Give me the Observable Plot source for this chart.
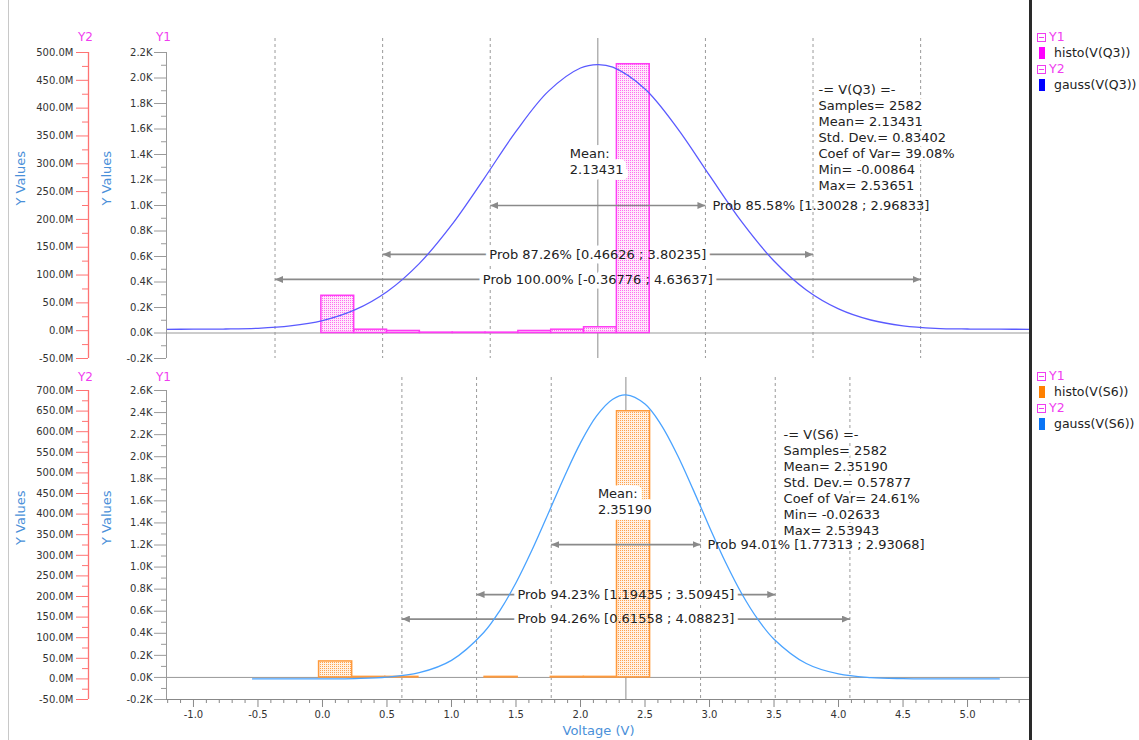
<!DOCTYPE html>
<html>
<head>
<meta charset="utf-8">
<script src="https://cdn.jsdelivr.net/npm/d3@7"></script>
<script src="https://cdn.jsdelivr.net/npm/@observablehq/plot@0.6"></script>
<style>
  body { margin: 0; background: #fff; font-family: "DejaVu Sans", sans-serif; }
  #wrap { position: relative; width: 1139px; height: 740px; overflow: hidden; background: #fff; }
  .abs { position: absolute; left: 0; }
  .leg { position: absolute; left: 1037px; font-size: 12.5px; color: #222; }
  .row { height: 16px; line-height: 16px; display: flex; align-items: center; white-space: nowrap; }
  .minus { display: inline-block; box-sizing: border-box; width: 9px; height: 9px; border: 1px solid #f03cf0; position: relative; margin-right: 3px; }
  .minus:after { content: ""; position: absolute; left: 1px; right: 1px; top: 3px; height: 1px; background: #f03cf0; }
  .yl { color: #f03cf0; }
  .sw { display: inline-block; width: 6px; height: 12px; margin: 0 9px 0 2px; }
</style>
</head>
<body>
<svg width="0" height="0" style="position:absolute">
  <defs>
    <pattern id="pinkDots" width="2" height="2" patternUnits="userSpaceOnUse">
      <rect width="2" height="2" fill="#ffe8fc"/>
      <rect width="1" height="1" fill="#ff6cee"/>
    </pattern>
    <pattern id="orangeDots" width="2" height="2" patternUnits="userSpaceOnUse">
      <rect width="2" height="2" fill="#fff1e4"/>
      <rect width="1" height="1" fill="#ffa24e"/>
    </pattern>
  </defs>
</svg>
<div id="wrap">
  <div style="position:absolute;left:8px;top:0;width:1px;height:740px;background:#c8c8c8"></div>
  <div id="top1" class="abs" style="top:0"></div>
  <div id="top2" class="abs" style="top:0"></div>
  <div id="bot1" class="abs" style="top:362px"></div>
  <div id="bot2" class="abs" style="top:362px"></div>
  <div style="position:absolute;left:1029px;top:0;width:3px;height:740px;background:#2a2a2a"></div>
  <div class="leg" style="top:29px">
    <div class="row"><span class="minus"></span><span class="yl">Y1</span></div>
    <div class="row"><span class="sw" style="background:#ff00ff"></span>histo(V(Q3))</div>
    <div class="row"><span class="minus"></span><span class="yl">Y2</span></div>
    <div class="row"><span class="sw" style="background:#0000ff"></span>gauss(V(Q3))</div>
  </div>
  <div class="leg" style="top:368px">
    <div class="row"><span class="minus"></span><span class="yl">Y1</span></div>
    <div class="row"><span class="sw" style="background:#ff8000"></span>histo(V(S6))</div>
    <div class="row"><span class="minus"></span><span class="yl">Y2</span></div>
    <div class="row"><span class="sw" style="background:#0a74f5"></span>gauss(V(S6))</div>
  </div>
</div>
<script>
// ---------- shared x axis ----------
const xDomain = [-1.209, 5.488];
const xMajorTicks = [-1.0, -0.5, 0.0, 0.5, 1.0, 1.5, 2.0, 2.5, 3.0, 3.5, 4.0, 4.5, 5.0];
const xMinorTicks = [-1.2, -1.1, -0.9, -0.8, -0.7, -0.6, -0.4, -0.3, -0.2, -0.1, 0.1, 0.2, 0.3, 0.4,
  0.6, 0.7, 0.8, 0.9, 1.1, 1.2, 1.3, 1.4, 1.6, 1.7, 1.8, 1.9, 2.1, 2.2, 2.3, 2.4, 2.6, 2.7, 2.8, 2.9,
  3.1, 3.2, 3.3, 3.4, 3.6, 3.7, 3.8, 3.9, 4.1, 4.2, 4.3, 4.4, 4.6, 4.7, 4.8, 4.9, 5.1, 5.2, 5.3, 5.4];

// ---------- top panel: V(Q3) ----------
const q3Y1Domain = [-0.2, 2.2];      // K counts
const q3Y2Domain = [-50, 500];       // M (milli)
const q3Y1Major = [-0.2, 0.0, 0.2, 0.4, 0.6, 0.8, 1.0, 1.2, 1.4, 1.6, 1.8, 2.0, 2.2];
const q3Y1Minor = [-0.1, 0.1, 0.3, 0.5, 0.7, 0.9, 1.1, 1.3, 1.5, 1.7, 1.9, 2.1];
const q3Y2Major = [-50, 0, 50, 100, 150, 200, 250, 300, 350, 400, 450, 500];
const q3Y2Minor = [-25, 25, 75, 125, 175, 225, 275, 325, 375, 425, 475];
const q3BinEdges = [-0.00864, 0.24588, 0.50039, 0.75491, 1.00942, 1.26394, 1.51845, 1.77297, 2.02748, 2.28200, 2.53651];
const q3Counts = [292, 26, 16, 3, 3, 3, 16, 26, 45, 2108];
const q3GaussX = [-1.25, -1.0, -0.75, -0.5, -0.25, 0, 0.25, 0.5, 0.75, 1.0, 1.25, 1.5, 1.75, 2.0, 2.134, 2.25, 2.5, 2.75, 3.0, 3.25, 3.5, 3.75, 4.0, 4.25, 4.5, 4.75, 5.0, 5.25, 5.5];
const q3GaussY = [2.5, 2.7, 3.0, 4.3, 8.5, 18.1, 37.3, 70.1, 120.6, 189.7, 272.6, 358.2, 430.1, 472.1, 478.3, 473.7, 434.5, 364.2, 279.1, 195.5, 125.2, 73.2, 39.2, 19.2, 8.8, 4.3, 3.0, 2.7, 2.5];
const q3Mean = 2.13431;
const q3Bounds = [-0.36776, 0.46626, 1.30028, 2.96833, 3.80235, 4.63637];
const q3Intervals = [
  {lo: 1.30028, hi: 2.96833, level: 1.0, place: "right", label: "Prob 85.58% [1.30028 ; 2.96833]"},
  {lo: 0.46626, hi: 3.80235, level: 0.616, place: "center", label: "Prob 87.26% [0.46626 ; 3.80235]"},
  {lo: -0.36776, hi: 4.63637, level: 0.42, place: "center", label: "Prob 100.00% [-0.36776 ; 4.63637]"}
];
const q3MeanLabel = {level: 1.353, text: "Mean:\n2.13431"};
const q3Stats = {x: 3.845, level: 1.54, text: "-= V(Q3) =-\nSamples= 2582\nMean= 2.13431\nStd. Dev.= 0.83402\nCoef of Var= 39.08%\nMin= -0.00864\nMax= 2.53651"};

// ---------- bottom panel: V(S6) ----------
const s6Y1Domain = [-0.2, 2.6];
const s6Y2Domain = [-50, 700];
const s6Y1Major = [-0.2, 0.0, 0.2, 0.4, 0.6, 0.8, 1.0, 1.2, 1.4, 1.6, 1.8, 2.0, 2.2, 2.4, 2.6];
const s6Y1Minor = [-0.1, 0.1, 0.3, 0.5, 0.7, 0.9, 1.1, 1.3, 1.5, 1.7, 1.9, 2.1, 2.3, 2.5];
const s6Y2Major = [-50, 0, 50, 100, 150, 200, 250, 300, 350, 400, 450, 500, 550, 600, 650, 700];
const s6Y2Minor = [-25, 25, 75, 125, 175, 225, 275, 325, 375, 425, 475, 525, 575, 625, 675];
const s6BinEdges = [-0.02633, 0.23025, 0.48683, 0.74340, 0.99998, 1.25655, 1.51313, 1.76971, 2.02628, 2.28286, 2.53943];
const s6Counts = [145, 5, 5, 0, 0, 5, 0, 5, 5, 2412];
const s6GaussX = [-0.542, -0.25, 0, 0.25, 0.5, 0.75, 1.0, 1.25, 1.375, 1.5, 1.625, 1.75, 1.875, 2.0, 2.125, 2.25, 2.352, 2.5, 2.625, 2.75, 2.875, 3.0, 3.125, 3.25, 3.375, 3.5, 3.75, 4.0, 4.25, 4.5, 4.75, 5.0, 5.246];
const s6GaussY = [0.0, 0.0, 0.2, 0.9, 4.1, 15.0, 45.0, 112.5, 165.9, 233.3, 313.3, 401.4, 490.8, 573.0, 638.3, 678.7, 689.3, 667.1, 616.7, 544.1, 458.2, 368.3, 282.5, 206.8, 144.5, 96.4, 37.3, 12.0, 3.2, 0.7, 0.1, 0.0, 0.0];
const s6Mean = 2.35190;
const s6Bounds = [0.61558, 1.19435, 1.77313, 2.93068, 3.50945, 4.08823];
const s6Intervals = [
  {lo: 1.77313, hi: 2.93068, level: 1.204, place: "right", label: "Prob 94.01% [1.77313 ; 2.93068]"},
  {lo: 1.19435, hi: 3.50945, level: 0.751, place: "center", label: "Prob 94.23% [1.19435 ; 3.50945]"},
  {lo: 0.61558, hi: 4.08823, level: 0.529, place: "center", label: "Prob 94.26% [0.61558 ; 4.08823]"}
];
const s6MeanLabel = {level: 1.598, text: "Mean:\n2.35190"};
const s6Stats = {x: 3.574, level: 1.77, text: "-= V(S6) =-\nSamples= 2582\nMean= 2.35190\nStd. Dev.= 0.57877\nCoef of Var= 24.61%\nMin= -0.02633\nMax= 2.53943"};

// ---------- styling ----------
const AXIS_GRAY = "#9a9a9a";
const Y2_RED = "#ff7373";
const LABEL_BLUE = "#4a90d9";
const MAGENTA = "#f03cf0";
const TXT = "#222";
const FS = 13;
const LH = 16 / 13;
const baseStyle = {fontFamily: "DejaVu Sans, sans-serif", fontSize: "10px", background: "none", overflow: "visible", color: "#333"};

// filled arrowhead marker
function filledHead(color, context) {
  const doc = (context && context.document) || document;
  const ns = "http://www.w3.org/2000/svg";
  const m = doc.createElementNS(ns, "marker");
  m.setAttribute("viewBox", "-8 -3.5 8 7");
  m.setAttribute("markerWidth", 8);
  m.setAttribute("markerHeight", 7);
  m.setAttribute("markerUnits", "userSpaceOnUse");
  m.setAttribute("orient", "auto-start-reverse");
  m.setAttribute("refX", 0);
  m.setAttribute("refY", 0);
  const path = doc.createElementNS(ns, "path");
  path.setAttribute("d", "M-8,-3.5L0,0L-8,3.5Z");
  path.setAttribute("fill", color);
  path.setAttribute("stroke", "none");
  m.appendChild(path);
  return m;
}

function arrowLink(data, opts) {
  try {
    return Plot.link(data, {...opts, markerStart: filledHead, markerEnd: filledHead});
  } catch (e) {
    return Plot.link(data, {...opts, markerStart: "arrow-reverse", markerEnd: "arrow"});
  }
}

function panel(p) {
  const k = (p.y1Domain[1] - p.y1Domain[0]) / (p.y2Domain[1] - p.y2Domain[0]);
  const toY1 = v => p.y1Domain[0] + (v - p.y2Domain[0]) * k;
  const bins = p.counts.map((c, i) => ({x1: p.edges[i], x2: p.edges[i + 1], y: c / 1000})).filter(d => d.y > 0);
  const gauss = p.gaussX.map((x, i) => ({x, y: toY1(p.gaussY[i])}));
  const centered = p.intervals.filter(d => d.place === "center");
  const right = p.intervals.filter(d => d.place === "right");
  const mid = d => (d.lo + d.hi) / 2;
  const arrowOpts = {x1: "lo", x2: "hi", y1: "level", y2: "level", stroke: "#8a8a8a", strokeWidth: 1.7};

  const marks = [
    Plot.ruleY([0], {stroke: "#999"}),
    Plot.ruleX(p.bounds, {stroke: "#9a9a9a", strokeDasharray: "3,3", insetTop: -p.ext}),
    Plot.ruleX([p.mean], {stroke: "#8c8c8c", insetTop: -p.ext}),
    arrowLink(centered, arrowOpts),
    Plot.text(centered, {x: mid, y: "level", text: "label", fontSize: FS, fill: "white", stroke: "white", strokeWidth: 9}),
    Plot.rectY(bins, {x1: "x1", x2: "x2", y: "y", fill: `url(#${p.pattern})`, stroke: p.barColor, strokeWidth: 1.5}),
    Plot.line(gauss, {x: "x", y: "y", curve: "catmull-rom", stroke: p.gaussColor, strokeWidth: 1.3, clip: true}),
    arrowLink(right, arrowOpts),
    Plot.text([p.stats], {x: "x", y: "level", text: "text", textAnchor: "start", lineAnchor: "middle", lineHeight: LH, fontSize: FS, fill: TXT, stroke: "white", strokeWidth: 6}),
    Plot.text(right, {x: "hi", y: "level", text: "label", textAnchor: "start", dx: 7, fontSize: FS, fill: TXT}),
    Plot.text(centered, {x: mid, y: "level", text: "label", fontSize: FS, fill: TXT}),
    Plot.text([p.meanLabel], {x: () => p.mean, y: "level", text: "text", textAnchor: "start", dx: -28, lineAnchor: "middle", lineHeight: LH, fontSize: FS, fill: TXT, stroke: "white", strokeWidth: 12}),
    Plot.ruleX([xDomain[0]], {stroke: AXIS_GRAY}),
    Plot.axisY(p.y1Minor, {anchor: "left", tickSize: 5, stroke: AXIS_GRAY, fill: "none", label: null}),
    Plot.axisY(p.y1Major, {anchor: "left", tickSize: 12, tickPadding: 2, stroke: AXIS_GRAY, fill: "#333", tickFormat: d => d.toFixed(1) + "K", label: null}),
    Plot.text(["Y1"], {frameAnchor: "top-left", lineAnchor: "middle", dx: -10.5, dy: p.labelDy, fill: MAGENTA, fontSize: 12}),
    Plot.text(["Y Values"], {frameAnchor: "left", rotate: -90, dx: -60, fill: LABEL_BLUE, fontSize: 13})
  ];
  if (p.xAxis) {
    marks.push(
      Plot.ruleY([p.y1Domain[0]], {stroke: "#888"}),
      Plot.axisX(xMinorTicks, {anchor: "bottom", tickSize: 4, stroke: "#888", fill: "none", label: null}),
      Plot.axisX(xMajorTicks, {anchor: "bottom", tickSize: 8, tickPadding: 3, stroke: "#888", fill: "#333", tickFormat: d => d.toFixed(1), label: null}),
      Plot.text(["Voltage (V)"], {frameAnchor: "bottom", lineAnchor: "middle", dy: 31, fill: LABEL_BLUE, fontSize: 13})
    );
  }
  const main = Plot.plot({
    width: 1139, height: p.height,
    marginLeft: 166, marginRight: 109, marginTop: p.mt, marginBottom: p.mb,
    style: baseStyle,
    x: {domain: xDomain, axis: null},
    y: {domain: p.y1Domain, axis: null},
    marks
  });
  const y2 = Plot.plot({
    width: 170, height: p.height,
    marginLeft: 88, marginRight: 81, marginTop: p.mt, marginBottom: p.mb,
    style: baseStyle,
    x: {domain: [0, 1], axis: null},
    y: {domain: p.y2Domain, axis: null},
    marks: [
      Plot.ruleX([0], {stroke: Y2_RED, strokeWidth: 1.3}),
      Plot.axisY(p.y2Minor, {anchor: "left", tickSize: 6, stroke: Y2_RED, fill: "none", label: null}),
      Plot.axisY(p.y2Major, {anchor: "left", tickSize: 12, tickPadding: 3, stroke: Y2_RED, fill: "#333", tickFormat: d => d.toFixed(1) + "M", label: null}),
      Plot.text(["Y2"], {frameAnchor: "top-left", lineAnchor: "middle", dx: -10.5, dy: p.labelDy, fill: MAGENTA, fontSize: 12}),
      Plot.text(["Y Values"], {frameAnchor: "left", rotate: -90, dx: -68, fill: LABEL_BLUE, fontSize: 13})
    ]
  });
  document.getElementById(p.target1).appendChild(main);
  document.getElementById(p.target2).appendChild(y2);
}

panel({
  target1: "top1", target2: "top2", height: 362, mt: 52, mb: 4, ext: 14, labelDy: -15,
  y1Domain: q3Y1Domain, y2Domain: q3Y2Domain, y1Major: q3Y1Major, y1Minor: q3Y1Minor,
  y2Major: q3Y2Major, y2Minor: q3Y2Minor, edges: q3BinEdges, counts: q3Counts,
  gaussX: q3GaussX, gaussY: q3GaussY, mean: q3Mean, bounds: q3Bounds, intervals: q3Intervals,
  meanLabel: q3MeanLabel, stats: q3Stats, pattern: "pinkDots", barColor: "#ff3cf5", gaussColor: "#5a5aff", xAxis: false
});
panel({
  target1: "bot1", target2: "bot2", height: 378, mt: 28, mb: 41, ext: 13, labelDy: -13,
  y1Domain: s6Y1Domain, y2Domain: s6Y2Domain, y1Major: s6Y1Major, y1Minor: s6Y1Minor,
  y2Major: s6Y2Major, y2Minor: s6Y2Minor, edges: s6BinEdges, counts: s6Counts,
  gaussX: s6GaussX, gaussY: s6GaussY, mean: s6Mean, bounds: s6Bounds, intervals: s6Intervals,
  meanLabel: s6MeanLabel, stats: s6Stats, pattern: "orangeDots", barColor: "#ff9a3c", gaussColor: "#4aa3ff", xAxis: true
});
</script>
</body>
</html>
